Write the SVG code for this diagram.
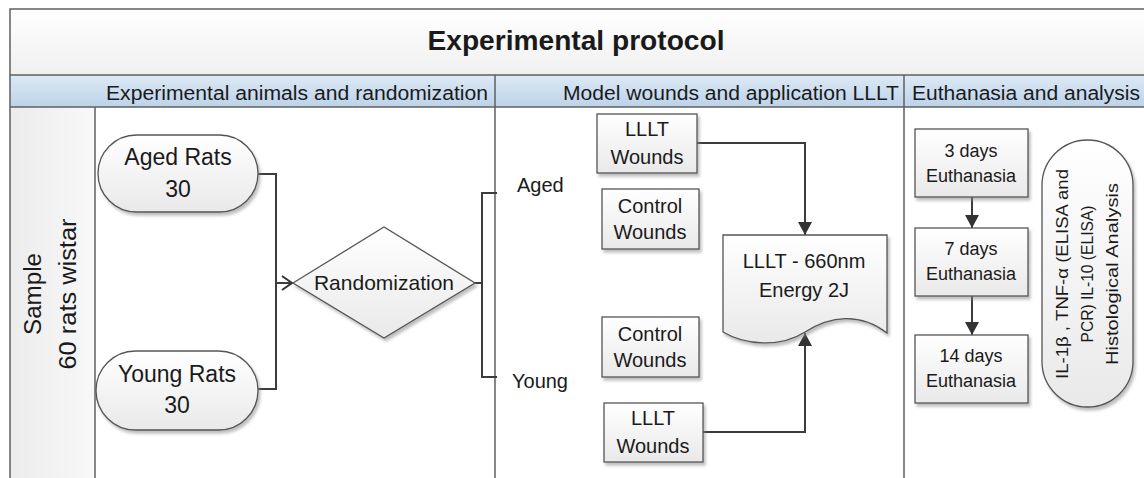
<svg xmlns="http://www.w3.org/2000/svg" width="1144" height="478" viewBox="0 0 1144 478">
<defs>
  <linearGradient id="gShape" x1="0" y1="0" x2="0" y2="1">
    <stop offset="0" stop-color="#ffffff"/>
    <stop offset="1" stop-color="#e9e9e9"/>
  </linearGradient>
  <linearGradient id="gTitle" x1="0" y1="0" x2="0" y2="1">
    <stop offset="0" stop-color="#ffffff"/>
    <stop offset="1" stop-color="#f0f0f0"/>
  </linearGradient>
  <linearGradient id="gHead" x1="0" y1="0" x2="0" y2="1">
    <stop offset="0" stop-color="#dde9f5"/>
    <stop offset="1" stop-color="#bcd3e9"/>
  </linearGradient>
  <linearGradient id="gLane" x1="0" y1="0" x2="1" y2="0">
    <stop offset="0" stop-color="#ececec"/>
    <stop offset="1" stop-color="#f8f8f8"/>
  </linearGradient>
  <filter id="sh" x="-10%" y="-10%" width="130%" height="130%">
    <feDropShadow dx="2" dy="3" stdDeviation="1.5" flood-color="#888" flood-opacity="0.55"/>
  </filter>
  <marker id="aFill" markerWidth="14" markerHeight="14" refX="13" refY="7" orient="auto" markerUnits="userSpaceOnUse">
    <path d="M0,0 L13,7 L0,14 Z" fill="#333"/>
  </marker>
  <marker id="aOpen" markerWidth="14" markerHeight="16" refX="11" refY="8" orient="auto" markerUnits="userSpaceOnUse">
    <path d="M1,1 L11,8 L1,15" fill="none" stroke="#333" stroke-width="2"/>
  </marker>
  <style>
    text { font-family: "Liberation Sans", Arial, sans-serif; fill: #1a1a1a; }
    .frame { fill: none; stroke: #606060; stroke-width: 1.5; }
    .shape { fill: url(#gShape); stroke: #555; stroke-width: 1.3; filter: url(#sh); }
    .conn { fill: none; stroke: #3c3c3c; stroke-width: 2; }
    .t20 { font-size: 20px; }
    .t18 { font-size: 18px; }
    .c { text-anchor: middle; }
  </style>
</defs>

<!-- Pool / lanes background -->
<g id="frame">
  <rect x="10" y="9" width="1140" height="66" fill="url(#gTitle)"/>
  <rect x="10" y="75" width="1140" height="32" fill="url(#gHead)"/>
  <rect x="10" y="107" width="85" height="380" fill="url(#gLane)"/>
  <rect x="95" y="107" width="1055" height="380" fill="#ffffff"/>
  <path class="frame" d="M1150,9 H10 V490 M10,75 H1150 M10,107 H1150 M95,107 V490 M495,75 V490 M904,75 V490"/>
  <text x="576" y="50" font-size="27" font-weight="bold" class="c" textLength="297" lengthAdjust="spacingAndGlyphs">Experimental protocol</text>
  <text x="488" y="100" class="t20" text-anchor="end" textLength="382" lengthAdjust="spacingAndGlyphs">Experimental animals and randomization</text>
  <text x="899" y="100" class="t20" text-anchor="end" textLength="336" lengthAdjust="spacingAndGlyphs">Model wounds and application LLLT</text>
  <text x="912" y="100" class="t20" textLength="228" lengthAdjust="spacingAndGlyphs">Euthanasia and analysis</text>
  <g transform="translate(0,294) rotate(-90)">
    <text x="0" y="41" font-size="23" class="c" textLength="82" lengthAdjust="spacingAndGlyphs">Sample</text>
    <text x="0" y="76" font-size="23" class="c" textLength="151" lengthAdjust="spacingAndGlyphs">60 rats wistar</text>
  </g>
</g>

<!-- Connectors -->
<g id="connectors">
  <path class="conn" d="M258,174 H276 V389 H258"/>
  <path class="conn" d="M276,283 H292" marker-end="url(#aOpen)"/>
  <path class="conn" d="M475,283 H482 M497,193 H482 V377 H497"/>
  <path class="conn" d="M697,143 H805 V235" marker-end="url(#aFill)"/>
  <path class="conn" d="M703,432 H805 V333" marker-end="url(#aFill)"/>
  <path class="conn" d="M972,197 V228" marker-end="url(#aFill)"/>
  <path class="conn" d="M972,296 V335" marker-end="url(#aFill)"/>
</g>

<!-- Column 1 nodes -->
<g id="aged-rats">
  <rect class="shape" x="98" y="135" width="160" height="77" rx="38.5" ry="38.5"/>
  <text x="178" y="165" font-size="23" class="c">Aged Rats</text>
  <text x="178" y="197" font-size="23" class="c">30</text>
</g>
<g id="young-rats">
  <rect class="shape" x="96" y="351" width="162" height="79" rx="39.5" ry="39.5"/>
  <text x="177" y="382" font-size="23" class="c">Young Rats</text>
  <text x="177" y="413" font-size="23" class="c">30</text>
</g>
<g id="randomization">
  <path class="shape" d="M293,283 L384,227 L475,283 L384,338 Z"/>
  <text x="384" y="290" font-size="21" class="c">Randomization</text>
</g>

<!-- Column 2 -->
<g id="label-aged"><text x="517" y="192" class="t20">Aged</text></g>
<g id="label-young"><text x="512" y="388" class="t20">Young</text></g>
<g id="aged-lllt">
  <rect class="shape" x="597" y="114" width="100" height="59"/>
  <text x="647" y="136" class="t20 c">LLLT</text>
  <text x="647" y="164" class="t20 c">Wounds</text>
</g>
<g id="aged-control">
  <rect class="shape" x="602" y="189" width="97" height="60"/>
  <text x="650" y="213" class="t20 c">Control</text>
  <text x="650" y="239" class="t20 c">Wounds</text>
</g>
<g id="young-control">
  <rect class="shape" x="602" y="317" width="97" height="60"/>
  <text x="650" y="341" class="t20 c">Control</text>
  <text x="650" y="367" class="t20 c">Wounds</text>
</g>
<g id="young-lllt">
  <rect class="shape" x="604" y="403" width="99" height="59"/>
  <text x="653" y="425" class="t20 c">LLLT</text>
  <text x="653" y="453" class="t20 c">Wounds</text>
</g>
<g id="lllt-660">
  <path class="shape" d="M723,235 H887 V333 C860,312 830,316 805,332 C780,348 745,345 723,332 Z"/>
  <text x="804" y="268" class="t20 c">LLLT - 660nm</text>
  <text x="804" y="297" class="t20 c">Energy 2J</text>
</g>

<!-- Column 3 -->
<g id="day3">
  <rect class="shape" x="915" y="129" width="113" height="68"/>
  <text x="971" y="157" class="t18 c">3 days</text>
  <text x="971" y="182" class="t18 c">Euthanasia</text>
</g>
<g id="day7">
  <rect class="shape" x="915" y="228" width="113" height="68"/>
  <text x="971" y="255" class="t18 c">7 days</text>
  <text x="971" y="280" class="t18 c">Euthanasia</text>
</g>
<g id="day14">
  <rect class="shape" x="915" y="335" width="113" height="68"/>
  <text x="971" y="362" class="t18 c">14 days</text>
  <text x="971" y="387" class="t18 c">Euthanasia</text>
</g>
<g id="analysis">
  <rect class="shape" x="1042" y="140" width="91" height="267" rx="45.5" ry="45.5"/>
  <g transform="translate(0,274) rotate(-90)">
    <text x="0" y="1068" font-size="17" class="c" textLength="210" lengthAdjust="spacingAndGlyphs">IL-1β , TNF-α  (ELISA and</text>
    <text x="0" y="1093" font-size="17" class="c" textLength="137" lengthAdjust="spacingAndGlyphs">PCR) IL-10 (ELISA)</text>
    <text x="0" y="1118" font-size="17" class="c" textLength="182" lengthAdjust="spacingAndGlyphs">Histological Analysis</text>
  </g>
</g>
</svg>
